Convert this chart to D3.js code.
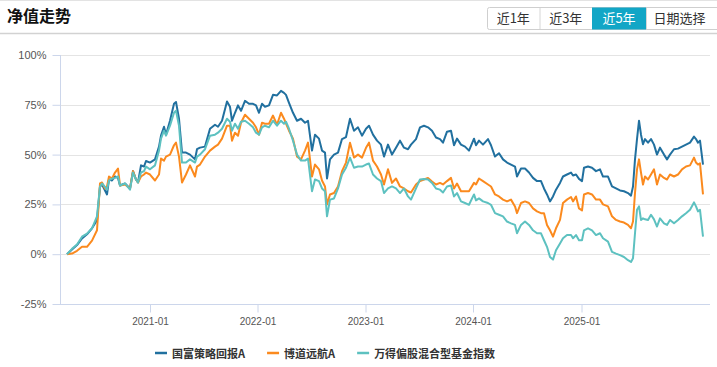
<!DOCTYPE html>
<html>
<head>
<meta charset="utf-8">
<script src="https://cdn.jsdelivr.net/npm/d3@7"></script>
<style>
  body { margin: 0; background: #fff; }
  svg { display: block; font-family: "Liberation Sans", Arial, sans-serif; }
</style>
</head>
<body>
<div id="chart"></div>
<script>
// trading day index of each sample (category axis)
const days = [0,10,20,30,40,50,60,66,70,76,80,84,90,96,102,106,116,126,132,138,142,148,154,158,166,176,184,188,194,198,206,214,218,224,230,238,246,256,260,266,276,286,296,302,310,320,326,330,336,342,348,356,364,372,378,384,390,396,404,412,420,428,434,438,444,452,460,468,476,482,490,496,504,510,516,520,526,534,542,550,558,566,574,582,590,598,604,612,620,628,634,642,650,658,666,674,682,688,698,706,714,722,730,738,746,752,760,768,774,780,788,796,804,814,818,824,832,842,848,856,864,872,880,888,896,900,908,916,924,932,940,948,954,960,966,972,978,986,992,1000,1008,1012,1018,1024,1030,1034,1042,1050,1058,1066,1072,1082,1090,1098,1106,1114,1122,1128,1132,1136,1140,1144,1148,1152,1156,1162,1168,1174,1180,1186,1194,1200,1206,1214,1222,1230,1238,1246,1254,1258,1262,1266,1272]

// 国富策略回报A (%)
const guofu = [0,2.4,4.6,7.9,10,13,17,34,35,32,30,37.5,37,39,38.3,34.5,35.5,33,41.7,37.5,36,44.6,44,46.8,46,47.6,54,59.5,64,60,67,75.5,76.4,68,51,51,50,47.6,52.7,53.5,54,63,65,64,67,76.7,74,67,71,74.7,72,77,75.5,75.5,74.7,71,75.5,74,74.7,80,79.7,82,81,80,76,71,67,68,66,67,52,60,58,52,51,38,47.6,50,51,57.8,58.8,68,62,63.7,59.5,63,64.5,60,57,55,49,55,50,53.5,57,53.5,52.7,55,57.8,63.7,64.5,63.7,62,58.6,57.8,56,61.5,62,54.7,58,55,54,52,58,54.7,57,55,57.8,54.7,49,50.7,47.6,46,45,44,39,43,43,41,38.3,36.7,36.7,33,30,26.5,29,32.4,35.8,39,40,41,39.5,40,37.8,36.7,43.4,44,43.4,41.7,42.6,39,39,34,33,32,31.6,30.7,29.4,34,47.6,57.8,67,60,55.2,57.8,56,57.8,55,50,53.5,50,47.6,50,52.7,53,54,55,56,59,57.8,56,57,45]

// 博道远航A (%)
const bodao = [0,0.3,1.7,3.7,3.7,6.8,12,35.5,36,33,34,39,38,41,43,34.5,35,33,41.7,37.5,36,39,40,41,40,37,40,48,47,49,50,54.7,56,49,36,40,44.6,39,44,45,49,52,54,55,58,64.5,64.5,57,61,59.5,66,70,68,66,63.7,60,66,65.5,65.5,69.6,65,71,68,65.5,62,58,49,47.6,52,56,39,45,42.6,37,34,25,30,30.7,34,41.7,46,56,48.5,50,48.5,53.4,56,47,44,40,35,42.6,35.8,38,34,33,31.6,31,35,36.7,37.5,38.3,36.5,35,35.8,35,36.7,38.3,33,35.5,31.6,31.6,31.6,35.8,35,38,36.7,35,34,30,29,27.4,26.5,27.4,24,20.6,25.7,26.5,25.7,23,21.5,20.6,20.6,14.7,12,8.8,13,17.2,25.7,27.4,28.7,26.5,29,23,22,30,30.7,30,27.4,27.4,25,24,19,17.2,16.4,15.9,14.7,13,16.4,30.7,42.6,47.6,41,35,39,37.5,40,42.6,35,40,38.3,37.5,40,39,40,42.6,44,44.6,48.5,46,45,45.6,30]

// 万得偏股混合型基金指数 (%)
const wind = [0,2.7,4.9,8.8,10.3,13,19,34,35.5,33.8,32.4,37,38,38.3,39,34.5,35.5,32.4,41,37.5,36,41,41.7,44,42.6,44.6,52,58,62,59.5,64.5,71,72,64.5,46,46,47.6,46,49,50,52.7,59.5,60,61,63,68,66.5,62,65.5,63,66.5,67,65.5,63.7,61,60,63.7,64.5,63.7,67,64.5,67,65.5,66.5,63,57,50,47,47,48,31.6,37.5,36.7,33,31.6,19,27.4,28,33,40,43.4,48.5,43.4,44,44,45,45.5,40,38,36.7,30.7,33,34,33,30.7,33,29,27.4,33,37.5,37.8,37.5,35.8,33,32.4,31,34,34.5,29,30.7,26.5,25.7,24.8,30,27,28,26.5,25.7,24.8,20.6,19.8,19,16.4,15.5,14.7,10.5,14.7,16.4,14.7,12,10.5,10.5,7,3.7,-1.4,-2.7,2,5.4,8,9.6,9.6,8,9.6,7,7,12,13,12,9.6,10.5,8,6.3,1.2,0.3,-0.5,-1.4,-3,-3.9,-2,10.5,22.3,24,17.2,18,17.5,17.2,19.8,17.5,13.9,18,15.5,14.7,17.2,15.5,17.2,19,20.6,22.3,26,24,21.5,22.3,8.8]

const seriesNames = ["国富策略回报A", "博道远航A", "万得偏股混合型基金指数"]
const seriesColors = ["#21709f", "#fb8a1e", "#5dc1c0"]
const tickDays = [166, 381, 597, 812, 1029]
const tickLabels = ["2021-01", "2022-01", "2023-01", "2024-01", "2025-01"]
const yTicks = [-25, 0, 25, 50, 75, 100]
const rangeButtons = ["近1年", "近3年", "近5年", "日期选择"]
const activeRange = "近5年"

const W = 717, H = 367
const svg = d3.select("#chart").append("svg")
    .attr("width", W)
    .attr("height", H)

// header
svg.append("line").attr("x1", 0).attr("x2", W).attr("y1", 0.5).attr("y2", 0.5)
    .attr("stroke", "#e3e3e3")
svg.append("line").attr("x1", 0).attr("x2", W).attr("y1", 33.5).attr("y2", 33.5)
    .attr("stroke", "#d2d2d2").attr("stroke-width", 1.5)
svg.append("text")
    .attr("x", 7).attr("y", 22)
    .attr("font-family", "'Noto Sans CJK SC', sans-serif")
    .attr("font-size", 16).attr("font-weight", "bold").attr("fill", "#111")
    .text("净值走势")

const btnX = [487, 539.5, 592, 646, 724]
const btn = svg.append("g")
btn.append("rect").attr("x", 487.5).attr("y", 7.5).attr("width", 240).attr("height", 22)
    .attr("fill", "#fff").attr("stroke", "#cfcfcf").attr("rx", 2)
rangeButtons.forEach((label, i) => {
    const x0 = btnX[i], x1 = btnX[i + 1]
    if (label === activeRange) {
        btn.append("rect").attr("x", x0).attr("y", 7.5).attr("width", x1 - x0).attr("height", 22)
            .attr("fill", "#12a6c6")
    } else if (i > 0) {
        btn.append("line").attr("x1", x0 + 0.5).attr("x2", x0 + 0.5).attr("y1", 8).attr("y2", 29)
            .attr("stroke", "#d6d6d6")
    }
    btn.append("text")
        .attr("x", (x0 + Math.min(x1, 717)) / 2 + (i === 3 ? -2 : 0)).attr("y", 23)
        .attr("text-anchor", "middle")
        .attr("font-family", "'Noto Sans CJK SC', sans-serif")
        .attr("font-size", 13)
        .attr("fill", label === activeRange ? "#fff" : "#333")
        .text(label)
})

// scales
const x = d3.scaleLinear().domain([0, d3.max(days)]).range([67, 703])
const y = d3.scaleLinear().domain([-25, 100]).range([304, 55])
const plotLeft = 60, plotRight = 710

// grid
svg.append("g")
    .selectAll("line")
    .data(yTicks.filter(d => d > -25))
    .join("line")
    .attr("x1", plotLeft).attr("x2", plotRight)
    .attr("y1", d => Math.round(y(d)) + 0.5).attr("y2", d => Math.round(y(d)) + 0.5)
    .attr("stroke", "#e4e4e4")

// y axis
const yAxis = svg.append("g")
    .attr("transform", `translate(${plotLeft + 0.5},0)`)
    .call(d3.axisLeft(y).tickValues(yTicks).tickSize(8).tickPadding(6).tickFormat(d => d + "%"))
yAxis.select(".domain").attr("stroke", "#ccd6eb").attr("d", `M0,${y(100)}V${y(-25)}`)
yAxis.selectAll(".tick line").attr("stroke", "#ccd6eb")
yAxis.selectAll(".tick text").attr("fill", "#555").attr("font-size", 11)
    .attr("font-family", "'Liberation Sans', Arial, sans-serif")

// x axis
const xAxis = svg.append("g")
    .attr("transform", `translate(0,${Math.round(y(-25)) + 0.5})`)
    .call(d3.axisBottom(x).tickValues(tickDays).tickSize(8).tickPadding(5)
        .tickFormat((d, i) => tickLabels[i]))
xAxis.select(".domain").attr("stroke", "#ccd6eb").attr("d", `M${plotLeft},0H${plotRight}`)
xAxis.selectAll(".tick line").attr("stroke", "#ccd6eb")
xAxis.selectAll(".tick text").attr("fill", "#555").attr("font-size", 10)
    .attr("font-family", "'Liberation Sans', Arial, sans-serif")

// lines
const allSeries = [guofu, bodao, wind]
const line = d3.line()
    .x((d, i) => x(days[i]))
    .y(d => y(d))

svg.append("g")
    .selectAll("path")
    .data(allSeries)
    .join("path")
    .attr("d", d => line(d))
    .attr("fill", "none")
    .attr("stroke", (d, i) => seriesColors[i])
    .attr("stroke-width", 2)
    .attr("stroke-linejoin", "round")

// legend
const legend = svg.append("g").attr("transform", "translate(155,353)")
let lx = 0
seriesNames.forEach((name, i) => {
    const g = legend.append("g").attr("transform", `translate(${lx},0)`)
    g.append("line").attr("x1", 0).attr("x2", 12).attr("y1", 0).attr("y2", 0)
        .attr("stroke", seriesColors[i]).attr("stroke-width", 2.5)
    const t = g.append("text")
        .attr("x", 17).attr("y", 4.5)
        .attr("font-family", "'Noto Sans CJK SC', sans-serif")
        .attr("font-size", 11).attr("font-weight", "bold").attr("fill", "#333")
        .text(name)
    lx += 17 + t.node().getComputedTextLength() + 22
})
</script>
</body>
</html>
